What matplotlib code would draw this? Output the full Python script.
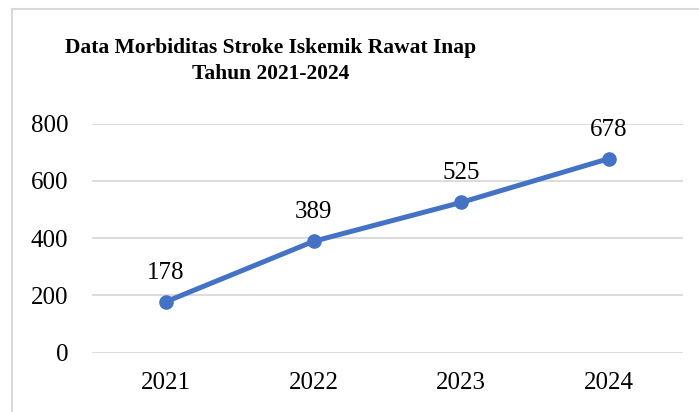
import matplotlib
matplotlib.use("Agg")
import matplotlib.pyplot as plt
from matplotlib.lines import Line2D

years = ["2021", "2022", "2023", "2024"]
values = [178, 389, 525, 678]
yticks = [0, 200, 400, 600, 800]
title = "Data Morbiditas Stroke Iskemik Rawat Inap\nTahun 2021-2024"

plt.rcParams['font.family'] = ['Liberation Serif', 'DejaVu Serif']

W, H = 699, 412
fig = plt.figure(figsize=(W / 100, H / 100), dpi=100)
ax = fig.add_axes([92 / W, 1 - 352.7 / H, (682.7 - 92) / W, (352.7 - 123.7) / H])

x = list(range(len(years)))
color = "#4472C4"
ax.plot(x, values, color=color, linewidth=3.6, marker="o", markersize=9.5,
        solid_capstyle="round", zorder=3, clip_on=False)
for xi, v in zip(x, values):
    ax.annotate(str(v), (xi, v), xytext=(0, 13), textcoords="offset points",
                ha="center", va="bottom", fontsize=18, color="black")

ax.set_xlim(-0.5, len(years) - 0.5)
ax.set_ylim(0, 800)
ax.set_xticks(x)
ax.set_xticklabels(years, fontsize=18)
ax.set_yticks(yticks)
ax.set_yticklabels([str(t) for t in yticks], fontsize=18)
ax.tick_params(length=0)
ax.tick_params(axis='y', pad=17)
ax.tick_params(axis='x', pad=14)
ax.grid(axis='y', color="#D9D9D9", linewidth=1.3)
ax.set_axisbelow(True)
for s in ax.spines.values():
    s.set_visible(False)

fig.text(271 / W, 1 - 61 / H, title, ha="center", va="center", fontsize=15.5,
         fontweight="bold", linespacing=1.45, multialignment="center")

# chart border
fig.add_artist(Line2D([11.5 / W, 11.5 / W], [0, 1 - 8.5 / H], transform=fig.transFigure,
                      color="#D9D9D9", linewidth=1.5))
fig.add_artist(Line2D([11.5 / W, 1], [1 - 8.5 / H, 1 - 8.5 / H], transform=fig.transFigure,
                      color="#D9D9D9", linewidth=1.5))

fig.savefig("out.png", dpi=100)
